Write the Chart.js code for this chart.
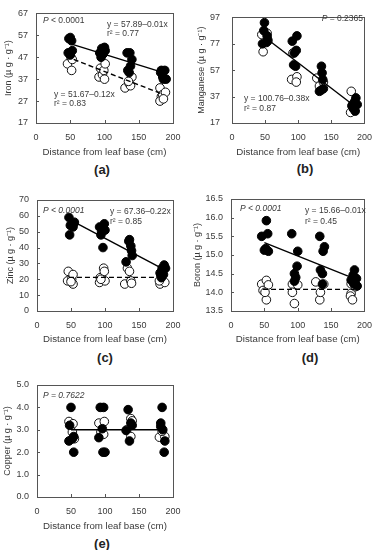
<!DOCTYPE html>
<html>
<head>
<meta charset="utf-8">
<script src="https://cdn.jsdelivr.net/npm/chart.js@4.4.1/dist/chart.umd.min.js"></script>
<style>
  body { margin: 0; background: #fff; width: 381px; height: 550px; position: relative; overflow: hidden; font-family: 'Liberation Sans', Arial, sans-serif; }
  canvas { position: absolute; }
  .lbl { position: absolute; font-weight: bold; font-size: 13px; color: #222; transform: translate(-50%, -50%); }
</style>
</head>
<body>
<canvas id="fe"></canvas>
<canvas id="mn"></canvas>
<canvas id="zn"></canvas>
<canvas id="bo"></canvas>
<canvas id="cu"></canvas>
<div class="lbl" style="left:102px;top:169px">(a)</div>
<div class="lbl" style="left:305px;top:168px">(b)</div>
<div class="lbl" style="left:105px;top:357px">(c)</div>
<div class="lbl" style="left:310px;top:357px">(d)</div>
<div class="lbl" style="left:102px;top:543px">(e)</div>
<script>
// x ticks are the same on every panel
const xTicks = [0, 50, 100, 150, 200];

// Iron
const ironFilled = [[48,55.5],[50,56],[52,54.5],[47,49],[50,48],[53,50],
  [93,49],[96,51],[100,51.5],[95,47],[98,48.5],[101,50],
  [133,49],[137,49],[140,46],[138,43],[134,41],[136,40],
  [183,41],[188,41],[182,40],[185,38],[186,37],[190,37]];
const ironOpen = [[46,44],[51,47],[53,46],[52,41],
  [92,38],[97,39],[100,37],[94,42],[99,41],[101,44],
  [130,33],[136,35],[138,34],[140,38],[135,36],
  [181,33],[183,29],[181,27],[185,30],[189,31],[186,28]];
const ironFitFilled = [[52,53],[186,40]];
const ironFitOpen = [[55,46],[186,30]];

// Manganese
const mnFilled = [[49,93],[48,87],[46,77],[53,83],[54,80],[52,78],
  [91,79],[98,83],[94,70],[97,72],[93,61],[96,60],
  [135,60],[136,55],[137,50],[135,42],[132,41],[138,43],
  [187,36],[185,33],[181,30],[183,28],[186,26],[189,31]];
const mnOpen = [[45,84],[47,71],[53,85],[54,79],
  [90,50],[98,52],[97,48],[92,70],
  [128,51],[132,45],[138,48],
  [180,41],[179,25],[182,31]];
const mnFit = [[52,81],[182,31]];

// Zinc
const znFilled = [[47,59],[48,48],[49,54],[55,56],[53,53],[54,55],
  [92,53],[99,55],[100,51],[94,48],[97,40],[95,50],
  [135,44],[136,45],[138,41],[139,38],[140,35],[131,31],
  [187,29],[184,27],[181,24],[186,23],[183,21],[189,27]];
const znOpen = [[46,25],[45,19],[51,20],[53,23],[53,17],[50,18.5],
  [93,21],[92,18],[98,27],[99,25],[100,19],[94,20],
  [129,17],[133,27],[136,25],[138,19],[139,17.5],
  [181,17],[182,22],[188,18],[180,19]];
const znFitFilled = [[55,56],[183,27]];
const znFitOpen = [[47,21.2],[185,21.2]];

// Boron
const boFilled = [[46,15.5],[53,15.92],[55,15.57],[50,15.13],[52,15.17],[56,15.1],
  [91,15.57],[95,14.5],[97,14.4],[95,14.3],[99,14.7],[100,15.1],
  [133,15.5],[134,14.6],[137,14.5],[137,14.22],[138,15.1],[140,15.22],
  [185,14.6],[183,14.46],[180,14.33],[188,14.37],[189,14.17],[184,14.23]];
const boOpen = [[46,14.22],[48,14.05],[53,14.32],[56,14.2],[53,13.8],[51,14.0],
  [92,14.22],[92,14.0],[95,13.7],[100,14.2],
  [127,14.28],[133,13.8],[134,14.0],[139,14.22],
  [180,13.97],[179,13.9],[182,13.8],[186,14.15],[180,14.23]];
const boFitFilled = [[50,15.33],[183,14.38]];
const boFitOpen = [[48,14.08],[185,14.08]];

// Copper
const cuFilled = [[50,4.0],[47,2.5],[48,3.2],[54,2.0],[52,2.6],[54,2.7],
  [93,4.0],[98,4.0],[91,2.65],[96,3.05],[97,2.0],[100,2.0],
  [134,3.9],[131,2.97],[138,3.3],[136,2.5],[140,3.2],
  [184,4.0],[182,3.3],[185,3.0],[188,2.5],[187,2.0],[182,3.15]];
const cuOpen = [[47,3.37],[53,3.27],[52,2.9],[55,2.6],
  [91,3.3],[99,3.37],[94,2.9],[98,2.8],
  [132,3.0],[138,3.5],[140,3.4],[138,2.7],
  [180,2.67],[188,2.7],[184,2.93]];
const cuFit = [[50,3.0],[184,3.0]];

const FONT = "'Liberation Sans', Arial, sans-serif";
const TXT = '#3a3a3a';
Chart.defaults.font.family = FONT;
Chart.defaults.font.size = 9;
Chart.defaults.color = TXT;

const pts = a => a.map(p => ({ x: p[0], y: p[1] }));

function fitLine(data, dashed) {
  return { data: pts(data), showLine: true, pointRadius: 0, borderColor: '#000',
    borderWidth: 1.4, borderDash: dashed ? [5, 3] : [], fill: false };
}
function filledSet(data) {
  return { data: pts(data), pointRadius: 4.3, backgroundColor: '#000', borderColor: '#000', borderWidth: 1 };
}
function openSet(data) {
  return { data: pts(data), pointRadius: 4.3, backgroundColor: '#fff', borderColor: '#111', borderWidth: 1 };
}

// frame, inward tick marks and text notes
const framePlugin = {
  id: 'frame',
  afterDraw(chart, args, opts) {
    const { ctx, chartArea: a, scales } = chart;
    ctx.save();
    ctx.strokeStyle = '#555';
    ctx.lineWidth = 1;
    ctx.strokeRect(Math.round(a.left) + 0.5, Math.round(a.top) + 0.5,
      Math.round(a.right - a.left), Math.round(a.bottom - a.top));
    ctx.beginPath();
    scales.x.ticks.forEach(t => {
      const px = Math.round(scales.x.getPixelForValue(t.value)) + 0.5;
      ctx.moveTo(px, a.bottom); ctx.lineTo(px, a.bottom - 3);
    });
    scales.y.ticks.forEach(t => {
      const py = Math.round(scales.y.getPixelForValue(t.value)) + 0.5;
      ctx.moveTo(a.left, py); ctx.lineTo(a.left + 3, py);
    });
    ctx.stroke();

    ctx.fillStyle = TXT;
    ctx.textBaseline = 'middle';
    (opts.notes || []).forEach(n => {
      let total = 0;
      n.parts.forEach(p => {
        ctx.font = (p.i ? 'italic ' : '') + '8.5px ' + FONT;
        total += ctx.measureText(p.s).width;
      });
      let x = n.align === 'right' ? n.x - total : n.x;
      n.parts.forEach(p => {
        ctx.font = (p.i ? 'italic ' : '') + '8.5px ' + FONT;
        ctx.textAlign = 'left';
        ctx.fillText(p.s, x, n.y);
        x += ctx.measureText(p.s).width;
      });
    });
    ctx.restore();
  }
};

function panel(id, box, area, y, sets, notes) {
  const cv = document.getElementById(id);
  cv.width = box.W; cv.height = box.H;
  cv.style.left = box.L + 'px'; cv.style.top = box.T + 'px';
  cv.style.width = box.W + 'px'; cv.style.height = box.H + 'px';
  // notes given in page coordinates
  const local = notes.map(n => Object.assign({}, n, { x: n.x - box.L, y: n.y - box.T }));
  new Chart(cv, {
    type: 'scatter',
    data: { datasets: sets },
    options: {
      responsive: false,
      animation: false,
      events: [],
      layout: { padding: { left: 0, top: area.y0 - box.T, right: box.L + box.W - area.x1, bottom: 0 } },
      scales: {
        x: {
          type: 'linear', min: xTicks[0], max: xTicks[xTicks.length - 1],
          afterBuildTicks: s => { s.ticks = xTicks.map(v => ({ value: v })); },
          afterFit: s => { s.height = box.T + box.H - area.y1; },
          grid: { display: false, drawTicks: false },
          border: { display: false },
          ticks: { padding: 9, color: TXT, font: { size: 9 } },
          title: { display: true, text: 'Distance from leaf base (cm)', color: TXT,
            font: { size: 9.7 }, padding: { top: 0, bottom: 0 } }
        },
        y: {
          type: 'linear', min: y.min, max: y.max,
          ticks: { stepSize: y.step, padding: y.tickPad, color: TXT, font: { size: 9 },
            callback: v => v.toFixed(y.dec) },
          afterFit: s => { s.width = area.x0 - box.L; },
          grid: { display: false, drawTicks: false },
          border: { display: false },
          title: { display: true, text: y.title, color: TXT, font: { size: 9 },
            padding: { top: y.titlePad, bottom: 0 } }
        }
      },
      plugins: {
        legend: { display: false },
        tooltip: { enabled: false },
        frame: { notes: local }
      }
    },
    plugins: [framePlugin]
  });
}

panel('fe', { L: 0, T: 0, W: 190, H: 158 }, { x0: 36, y0: 13, x1: 173, y1: 123 },
  { min: 17, max: 67, step: 10, dec: 0, tickPad: 8, titlePad: 3, title: 'Iron (\u00b5 g \u00b7 g\u207b\u00b9)' },
  [fitLine(ironFitFilled, false), fitLine(ironFitOpen, true), filledSet(ironFilled), openSet(ironOpen)],
  [
    { x: 43, y: 20.5, parts: [{ s: 'P', i: true }, { s: ' < 0.0001' }] },
    { x: 107, y: 24.5, parts: [{ s: 'y = 57.89\u20130.01x' }] },
    { x: 107, y: 34, parts: [{ s: 'r\u00b2 = 0.77' }] },
    { x: 54, y: 94.5, parts: [{ s: 'y = 51.67\u20130.12x' }] },
    { x: 54, y: 104, parts: [{ s: 'r\u00b2 = 0.83' }] }
  ]);

panel('mn', { L: 190, T: 0, W: 191, H: 158 }, { x0: 232, y0: 11, x1: 370, y1: 123 },
  { min: 17, max: 97, step: 10, dec: 0, tickPad: 12, titlePad: 6, title: 'Manganese (\u00b5 g \u00b7 g\u207b\u00b9)' },
  [fitLine(mnFit, false), filledSet(mnFilled), openSet(mnOpen)],
  [
    { x: 363, y: 19, align: 'right', parts: [{ s: 'P', i: true }, { s: ' = 0.2365' }] },
    { x: 244, y: 98.5, parts: [{ s: 'y = 100.76\u20130.38x' }] },
    { x: 244, y: 108.5, parts: [{ s: 'r\u00b2 = 0.87' }] }
  ]);

panel('zn', { L: 0, T: 180, W: 190, H: 165 }, { x0: 37, y0: 200, x1: 173, y1: 311 },
  { min: 0, max: 70, step: 10, dec: 0, tickPad: 8, titlePad: 5, title: 'Zinc (\u00b5 g \u00b7 g\u207b\u00b9)' },
  [fitLine(znFitFilled, false), fitLine(znFitOpen, true), filledSet(znFilled), openSet(znOpen)],
  [
    { x: 43, y: 210.5, parts: [{ s: 'P < 0.0001', i: true }] },
    { x: 110, y: 212, parts: [{ s: 'y = 67.36\u20130.22x' }] },
    { x: 110, y: 222, parts: [{ s: 'r\u00b2 = 0.85' }] }
  ]);

panel('bo', { L: 190, T: 180, W: 191, H: 165 }, { x0: 231, y0: 199, x1: 368, y1: 311 },
  { min: 13.5, max: 16.5, step: 0.5, dec: 1, tickPad: 8, titlePad: 2, title: 'Boron (\u00b5 g \u00b7 g\u207b\u00b9)' },
  [fitLine(boFitFilled, false), fitLine(boFitOpen, true), filledSet(boFilled), openSet(boOpen)],
  [
    { x: 240, y: 209, parts: [{ s: 'P < 0.0001', i: true }] },
    { x: 305, y: 211, parts: [{ s: 'y = 15.66\u20130.01x' }] },
    { x: 305, y: 221.5, parts: [{ s: 'r\u00b2 = 0.45' }] }
  ]);

panel('cu', { L: 0, T: 365, W: 190, H: 167 }, { x0: 37, y0: 385, x1: 173, y1: 497 },
  { min: 0, max: 5, step: 1, dec: 1, tickPad: 8, titlePad: 2, title: 'Copper (\u00b5 g \u00b7 g\u207b\u00b9)' },
  [fitLine(cuFit, false), filledSet(cuFilled), openSet(cuOpen)],
  [
    { x: 43, y: 395.5, parts: [{ s: 'P = 0.7622', i: true }] }
  ]);
</script>
</body>
</html>
